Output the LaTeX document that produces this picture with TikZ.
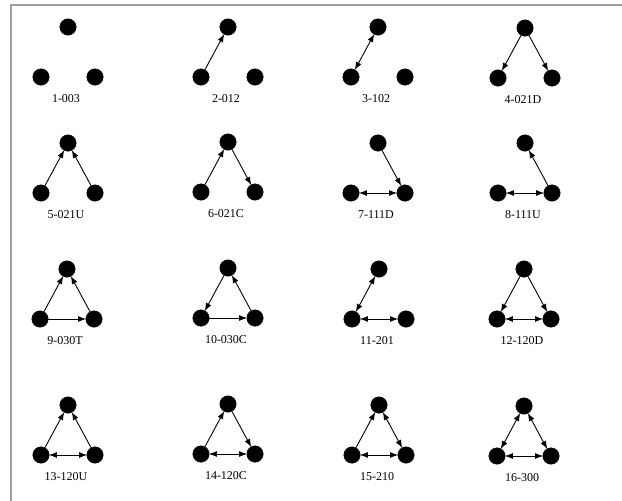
\documentclass[tikz,border=0pt]{standalone}
\usepackage{fontspec}
\setmainfont{Liberation Serif}
\usetikzlibrary{arrows.meta}
\tikzset{
  dot/.style={circle, fill=black, draw=black, inner sep=0pt, minimum size=16.5pt},
  lbl/.style={font=\fontsize{12}{14}\selectfont, inner sep=1pt},
  sig/.style={-{Latex[length=8pt,width=6pt]}, line width=0.9pt, shorten >=-0.5pt},
  bi/.style={{Latex[length=8pt,width=6pt]}-{Latex[length=8pt,width=6pt]},
             line width=0.9pt, shorten >=-0.5pt, shorten <=-0.5pt},
  frame/.style={draw=black!38, line width=1.3pt},
}
\begin{document}
\begin{tikzpicture}[x=1pt,y=-1pt]
    \useasboundingbox (0,0) rectangle (622,501);
    \coordinate (fa) at (11,501);
    \coordinate (fb) at (11,5);
    \coordinate (fc) at (622,5);
    \draw[frame] (fa) -- (fb) -- (fc);
    % the sixteen triads
    \foreach \n/\cx/\ty/\txt in {
        1/68/27/1-003,   2/228/27/2-012,   3/378/27/3-102,    4/525/28/4-021D,
        5/68/143/5-021U, 6/228/142/6-021C, 7/378/143/7-111D,  8/525/143/8-111U,
        9/67/269/9-030T, 10/228/268/10-030C, 11/379/269/11-201, 12/524/269/12-120D,
        13/68/405/13-120U, 14/228/404/14-120C, 15/379/405/15-210, 16/524/406/16-300} {
      \node[dot] (t\n) at (\cx,\ty) {};
      \node[dot] (l\n) at (\cx-27,\ty+50) {};
      \node[dot] (r\n) at (\cx+27,\ty+50) {};
      \node[lbl] (c\n) at (\cx-2,\ty+72) {\txt};
    }
    \draw[sig] (l2) -- (t2);
    \draw[bi] (l3) -- (t3);
    \draw[sig] (t4) -- (l4);
    \draw[sig] (t4) -- (r4);
    \draw[sig] (l5) -- (t5);
    \draw[sig] (r5) -- (t5);
    \draw[sig] (l6) -- (t6);
    \draw[sig] (t6) -- (r6);
    \draw[sig] (t7) -- (r7);
    \draw[bi] (l7) -- (r7);
    \draw[sig] (r8) -- (t8);
    \draw[bi] (l8) -- (r8);
    \draw[sig] (l9) -- (t9);
    \draw[sig] (r9) -- (t9);
    \draw[sig] (l9) -- (r9);
    \draw[sig] (t10) -- (l10);
    \draw[sig] (l10) -- (r10);
    \draw[sig] (r10) -- (t10);
    \draw[bi] (l11) -- (t11);
    \draw[bi] (l11) -- (r11);
    \draw[sig] (t12) -- (l12);
    \draw[sig] (t12) -- (r12);
    \draw[bi] (l12) -- (r12);
    \draw[sig] (l13) -- (t13);
    \draw[sig] (r13) -- (t13);
    \draw[bi] (l13) -- (r13);
    \draw[sig] (l14) -- (t14);
    \draw[sig] (t14) -- (r14);
    \draw[bi] (l14) -- (r14);
    \draw[sig] (l15) -- (t15);
    \draw[bi] (t15) -- (r15);
    \draw[bi] (l15) -- (r15);
    \draw[bi] (l16) -- (t16);
    \draw[bi] (t16) -- (r16);
    \draw[bi] (l16) -- (r16);
\end{tikzpicture}
\end{document}
